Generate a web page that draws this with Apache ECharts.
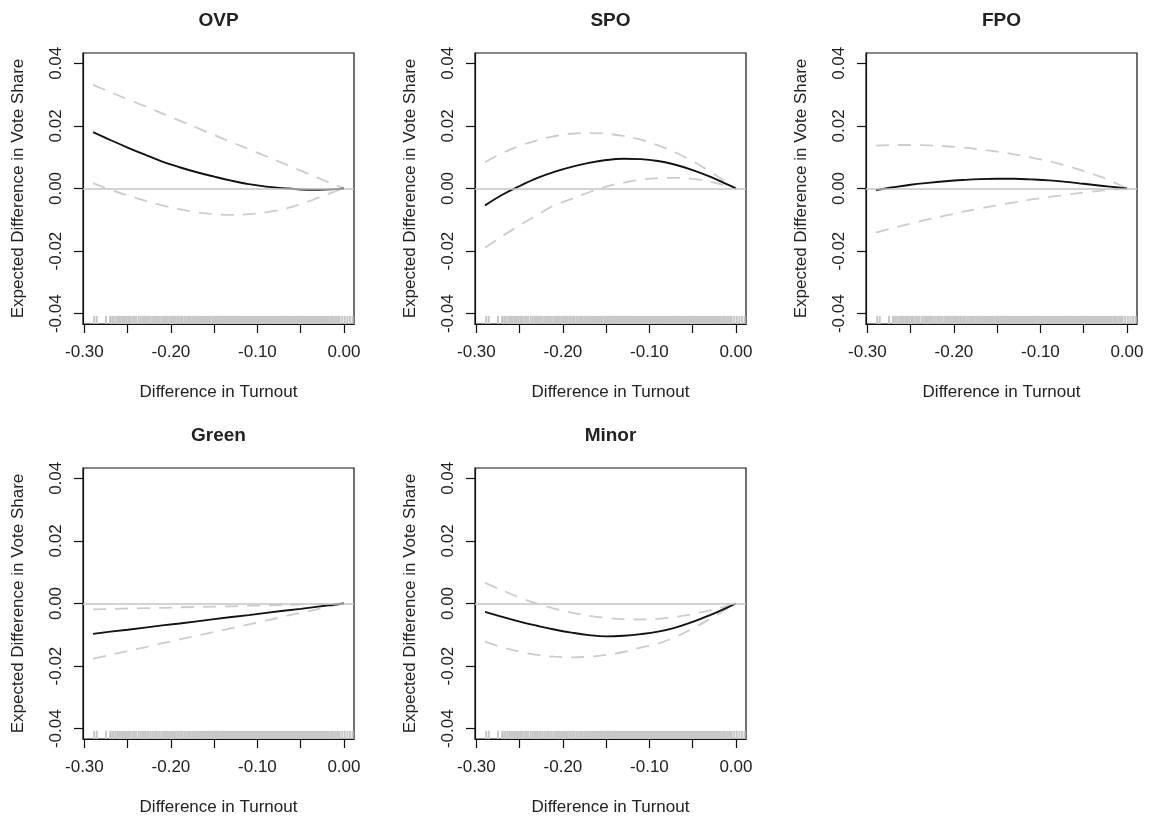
<!DOCTYPE html>
<html>
<head>
<meta charset="utf-8">
<script src="https://cdn.jsdelivr.net/npm/echarts@6/dist/echarts.min.js"></script>
<style>
html,body{margin:0;padding:0;background:#fff;}
#chart{width:1150px;height:817px;}
</style>
</head>
<body>
<div id="chart"></div>
<script>
// ---------- data ----------
const panelTitles = ['OVP', 'SPO', 'FPO', 'Green', 'Minor'];
const xTitle = 'Difference in Turnout';
const yTitle = 'Expected Difference in Vote Share';

const xValues = [-0.29, -0.27, -0.25, -0.23, -0.21, -0.19, -0.17, -0.15, -0.13, -0.11, -0.09, -0.07, -0.05, -0.03, -0.01, 0.00];

const ovpEst   = [0.0180, 0.0155, 0.0131, 0.0108, 0.0086, 0.0068, 0.0052, 0.0038, 0.0025, 0.0014, 0.0006, 0.0001, -0.0003, -0.0004, -0.0002, 0];
const ovpUpper = [0.0331, 0.0308, 0.0285, 0.0263, 0.0240, 0.0217, 0.0194, 0.0171, 0.0148, 0.0126, 0.0103, 0.0080, 0.0057, 0.0034, 0.0011, 0];
const ovpLower = [0.0017, -0.0004, -0.0022, -0.0039, -0.0054, -0.0066, -0.0076, -0.0082, -0.0084, -0.0082, -0.0076, -0.0066, -0.0050, -0.0030, -0.0009, 0];

const spoEst   = [-0.0054, -0.0020, 0.0008, 0.0033, 0.0053, 0.0069, 0.0082, 0.0091, 0.0095, 0.0094, 0.0088, 0.0076, 0.0059, 0.0038, 0.0013, 0];
const spoUpper = [0.0084, 0.0113, 0.0136, 0.0154, 0.0167, 0.0175, 0.0177, 0.0175, 0.0168, 0.0156, 0.0138, 0.0115, 0.0087, 0.0054, 0.0018, 0];
const spoLower = [-0.0189, -0.0152, -0.0118, -0.0085, -0.0054, -0.0033, -0.0012, 0.0006, 0.0019, 0.0028, 0.0033, 0.0034, 0.0031, 0.0022, 0.0008, 0];

const fpoEst   = [-0.0005, 0.0004, 0.0012, 0.0018, 0.0023, 0.0027, 0.0030, 0.0031, 0.0031, 0.0029, 0.0026, 0.0021, 0.0015, 0.0009, 0.0003, 0];
const fpoUpper = [0.0137, 0.0139, 0.0139, 0.0138, 0.0135, 0.0131, 0.0125, 0.0118, 0.0109, 0.0099, 0.0087, 0.0073, 0.0056, 0.0037, 0.0013, 0];
const fpoLower = [-0.0141, -0.0126, -0.0112, -0.0099, -0.0087, -0.0075, -0.0064, -0.0054, -0.0044, -0.0035, -0.0027, -0.0020, -0.0013, -0.0007, -0.0002, 0];

const greenEst   = [-0.0097, -0.0090, -0.0084, -0.0077, -0.0070, -0.0064, -0.0057, -0.0050, -0.0043, -0.0037, -0.0030, -0.0023, -0.0017, -0.0010, -0.0003, 0];
const greenUpper = [-0.0019, -0.0018, -0.0016, -0.0015, -0.0014, -0.0012, -0.0011, -0.0010, -0.0009, -0.0007, -0.0006, -0.0005, -0.0003, -0.0002, -0.0001, 0];
const greenLower = [-0.0176, -0.0164, -0.0152, -0.0140, -0.0127, -0.0115, -0.0103, -0.0091, -0.0079, -0.0067, -0.0055, -0.0042, -0.0030, -0.0018, -0.0006, 0];

const minorEst   = [-0.0027, -0.0043, -0.0058, -0.0071, -0.0083, -0.0093, -0.0101, -0.0105, -0.0103, -0.0098, -0.0090, -0.0077, -0.0059, -0.0037, -0.0013, 0];
const minorUpper = [0.0066, 0.0042, 0.0019, 0.0000, -0.0016, -0.0029, -0.0039, -0.0046, -0.0050, -0.0051, -0.0049, -0.0043, -0.0034, -0.0022, -0.0008, 0];
const minorLower = [-0.0122, -0.0140, -0.0154, -0.0164, -0.0170, -0.0172, -0.0170, -0.0164, -0.0155, -0.0141, -0.0128, -0.0107, -0.0080, -0.0049, -0.0016, 0];

const estimates = [ovpEst, spoEst, fpoEst, greenEst, minorEst];
const uppers = [ovpUpper, spoUpper, fpoUpper, greenUpper, minorUpper];
const lowers = [ovpLower, spoLower, fpoLower, greenLower, minorLower];
const curved = [true, true, true, false, true];

const xTickValues = [-0.30, -0.25, -0.20, -0.15, -0.10, -0.05, 0.00];
const xLabelValues = [-0.30, -0.20, -0.10, 0.00];
const yTickValues = [-0.04, -0.02, 0.00, 0.02, 0.04];

// observed turnout differences (rug)
const rugX = [
 -0.2887, -0.2857, -0.2750, -0.2703, -0.2680, -0.2665, -0.2640, -0.2619, -0.2600, -0.2580, -0.2560, -0.2542,
 -0.2520, -0.2495, -0.2480, -0.2465, -0.2440, -0.2419, -0.2400, -0.2372, -0.2350, -0.2330, -0.2311, -0.2290,
 -0.2270, -0.2257, -0.2235, -0.2211, -0.2190, -0.2175, -0.2157, -0.2135, -0.2111, -0.2090, -0.2070, -0.2056,
 -0.2035, -0.2010, -0.1995, -0.1980, -0.1964, -0.1945, -0.1925, -0.1910, -0.1890, -0.1875, -0.1864, -0.1840,
 -0.1818, -0.1800, -0.1785, -0.1771, -0.1750, -0.1735, -0.1717, -0.1700, -0.1680, -0.1664, -0.1645, -0.1630,
 -0.1617, -0.1600, -0.1585, -0.1570, -0.1556, -0.1540, -0.1520, -0.1502, -0.1490, -0.1475, -0.1460, -0.1448,
 -0.1430, -0.1415, -0.1402,
 -0.1390, -0.1375, -0.1360, -0.1345, -0.1330, -0.1315, -0.1300, -0.1285, -0.1270, -0.1255, -0.1240, -0.1225,
 -0.1210, -0.1195, -0.1180, -0.1165, -0.1150, -0.1135, -0.1120, -0.1105, -0.1090, -0.1075, -0.1060, -0.1045,
 -0.1030, -0.1015, -0.1000, -0.0985, -0.0970, -0.0955, -0.0940, -0.0925, -0.0910, -0.0895, -0.0880, -0.0865,
 -0.0850, -0.0835, -0.0820, -0.0805, -0.0790, -0.0775, -0.0760, -0.0745, -0.0730, -0.0715, -0.0700, -0.0685,
 -0.0670, -0.0655, -0.0640, -0.0625, -0.0610, -0.0595, -0.0580, -0.0565, -0.0550, -0.0535, -0.0520, -0.0505,
 -0.0490, -0.0475, -0.0460, -0.0445, -0.0430, -0.0415, -0.0400, -0.0385, -0.0370, -0.0355, -0.0340, -0.0325,
 -0.0310, -0.0295, -0.0280, -0.0265, -0.0250, -0.0235, -0.0220, -0.0205, -0.0190, -0.0175,
 -0.0150, -0.0130, -0.0120, -0.0100, -0.0080, -0.0060, -0.0050, -0.0020, 0.0010, 0.0040, 0.0070, 0.0100
];

// ---------- layout ----------
const X_MIN = -0.3016, X_MAX = 0.0116;
const Y_MIN = -0.0433, Y_MAX = 0.0433;
const gridLefts = [83, 475, 866, 83, 475];
const gridTops = [53, 53, 53, 468, 468];
const GW = 271, GH = 271;
const FONT = 'Liberation Sans, Arial, Helvetica, sans-serif';

const grids = [], xAxes = [], yAxes = [], series = [], graphics = [];

panelTitles.forEach((name, i) => {
  grids.push({
    left: gridLefts[i], top: gridTops[i], width: GW, height: GH,
    show: true, borderColor: '#111', borderWidth: 1.2, backgroundColor: 'transparent'
  });
  xAxes.push({
    gridIndex: i, type: 'value', min: X_MIN, max: X_MAX,
    name: xTitle, nameLocation: 'middle', nameGap: 60,
    nameTextStyle: { fontFamily: FONT, fontSize: 17, color: '#222' },
    axisLine: { show: true, onZero: false, lineStyle: { color: '#111', width: 1.2 } },
    axisTick: { show: true, length: 9, customValues: xTickValues, lineStyle: { color: '#111', width: 1.2 } },
    axisLabel: { show: true, customValues: xLabelValues, margin: 20, fontFamily: FONT, fontSize: 17, color: '#222',
      formatter: v => v.toFixed(2) },
    splitLine: { show: false }
  });
  yAxes.push({
    gridIndex: i, type: 'value', min: Y_MIN, max: Y_MAX,
    name: yTitle, nameLocation: 'middle', nameGap: 56,
    nameTextStyle: { fontFamily: FONT, fontSize: 17, color: '#222' },
    axisLine: { show: true, onZero: false, lineStyle: { color: '#111', width: 1.2 } },
    axisTick: { show: true, length: 9, customValues: yTickValues, lineStyle: { color: '#111', width: 1.2 } },
    axisLabel: { show: true, customValues: yTickValues, rotate: 90, margin: 18, fontFamily: FONT, fontSize: 17, color: '#222',
      formatter: v => v.toFixed(2) },
    splitLine: { show: false }
  });

  const toPts = arr => xValues.map((x, k) => [x, arr[k]]);
  const sm = curved[i] ? 0.4 : false;

  // zero reference line
  series.push({
    type: 'line', xAxisIndex: i, yAxisIndex: i, data: [], silent: true, z: 1,
    markLine: {
      silent: true, symbol: 'none', label: { show: false },
      lineStyle: { color: '#c4c4c4', width: 1.5, type: 'solid' },
      data: [{ yAxis: 0 }], animation: false
    }
  });
  // confidence bounds
  [uppers[i], lowers[i]].forEach(arr => {
    series.push({
      type: 'line', xAxisIndex: i, yAxisIndex: i, data: toPts(arr), smooth: sm,
      showSymbol: false, silent: true, z: 2,
      lineStyle: { color: '#cccccc', width: 1.8, type: [13, 9] }
    });
  });
  // estimate
  series.push({
    type: 'line', xAxisIndex: i, yAxisIndex: i, data: toPts(estimates[i]), smooth: sm,
    showSymbol: false, silent: true, z: 3,
    lineStyle: { color: '#111', width: 1.9 }
  });
  // rug
  series.push({
    type: 'custom', xAxisIndex: i, yAxisIndex: i, silent: true, z: 4, clip: true,
    data: rugX.map(x => [x]),
    encode: { x: 0 },
    renderItem: (params, api) => {
      const p = api.coord([api.value(0), Y_MIN]);
      const top = api.coord([api.value(0), Y_MIN + 0.03 * (Y_MAX - Y_MIN)]);
      return {
        type: 'line',
        shape: { x1: p[0], y1: p[1], x2: top[0], y2: top[1] },
        style: { stroke: '#c8c8c8', lineWidth: 2 }
      };
    }
  });

  graphics.push({
    type: 'text', x: gridLefts[i] + GW / 2, y: gridTops[i] - 32,
    style: { text: name, font: 'bold 19px ' + FONT, fill: '#222', textAlign: 'center', textVerticalAlign: 'middle' }
  });
});

const chart = echarts.init(document.getElementById('chart'), null, { renderer: 'canvas' });
chart.setOption({
  animation: false,
  backgroundColor: '#fff',
  grid: grids, xAxis: xAxes, yAxis: yAxes, series: series, graphic: graphics
});
</script>
</body>
</html>
